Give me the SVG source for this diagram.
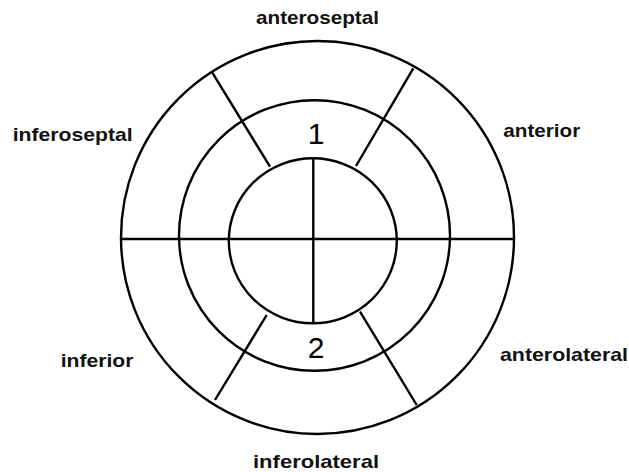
<svg xmlns="http://www.w3.org/2000/svg" width="629" height="472" viewBox="0 0 629 472">
<style>
.ring{fill:none;stroke:#000;stroke-width:2.4}
.ln{stroke:#000;stroke-width:2.4;fill:none}
.lbl{font-family:"Liberation Sans",Arial,sans-serif;font-weight:bold;font-size:19px;fill:#111}
.num{font-family:"Liberation Sans",Arial,sans-serif;font-size:30px;fill:#000;text-anchor:middle}
</style>
<rect width="629" height="472" fill="#fff"/>
<g id="rings">
<ellipse id="outer" class="ring" cx="317.5" cy="237.5" rx="196.5" ry="196.5"/>
<ellipse id="middle" class="ring" cx="314.5" cy="235.5" rx="135.5" ry="135.3"/>
<ellipse id="inner" class="ring" cx="312.8" cy="240.8" rx="84" ry="82.5"/>
</g>
<g id="connectors">
<line class="ln" x1="121" y1="239" x2="514" y2="239"/>
<line class="ln" x1="313.3" y1="158.3" x2="313.3" y2="323.3"/>
<line class="ln" x1="211.7" y1="71.7" x2="270" y2="166.7"/>
<line class="ln" x1="413.3" y1="68.3" x2="356" y2="166"/>
<line class="ln" x1="266.7" y1="315" x2="215" y2="400"/>
<line class="ln" x1="360" y1="311.7" x2="416.7" y2="405"/>
</g>
<g id="numbers">
<text class="num" x="316" y="144">1</text>
<text class="num" x="316" y="358">2</text>
</g>
<g id="labels">
<text id="anteroseptal" class="lbl" x="256" y="23.5" textLength="123" lengthAdjust="spacingAndGlyphs">anteroseptal</text>
<text id="inferoseptal" class="lbl" x="12.7" y="140.5" textLength="120" lengthAdjust="spacingAndGlyphs">inferoseptal</text>
<text id="anterior" class="lbl" x="503.3" y="137" textLength="77" lengthAdjust="spacingAndGlyphs">anterior</text>
<text id="inferior" class="lbl" x="60.7" y="366.5" textLength="72.7" lengthAdjust="spacingAndGlyphs">inferior</text>
<text id="anterolateral" class="lbl" x="500" y="361" textLength="128" lengthAdjust="spacingAndGlyphs">anterolateral</text>
<text id="inferolateral" class="lbl" x="253" y="467.5" textLength="126" lengthAdjust="spacingAndGlyphs">inferolateral</text>
</g>
</svg>
